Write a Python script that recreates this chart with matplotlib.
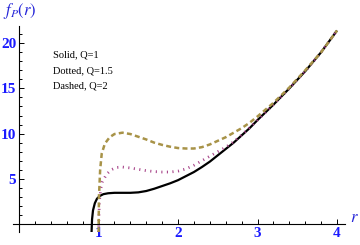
import numpy as np
import matplotlib
matplotlib.use("Agg")
from matplotlib import pyplot as plt
from matplotlib.ticker import FixedLocator

# Solid, Q=1
r_q1 = [0.912, 0.918, 0.93, 0.953, 0.98, 1.016, 1.06, 1.12, 1.2, 1.3, 1.4, 1.5,
        1.6, 1.7, 1.8, 1.9, 2.0, 2.1, 2.2, 2.3, 2.4, 2.5, 2.6, 2.7, 2.8, 2.9,
        3.0, 3.2, 3.4, 3.6, 3.8, 4.0]
f_q1 = [-0.9, 0.5, 1.5, 2.3, 2.8, 3.1, 3.3, 3.4, 3.45, 3.45, 3.45, 3.5,
        3.65, 3.9, 4.2, 4.5, 4.85, 5.3, 5.75, 6.3, 6.9, 7.6, 8.3, 9.0, 9.8, 10.6,
        11.5, 13.2, 15.0, 16.9, 19.0, 21.4]

# Dotted, Q=1.5
r_q15 = [1.0, 1.01, 1.03, 1.05, 1.1, 1.16, 1.22, 1.3, 1.4, 1.5, 1.6, 1.7,
         1.8, 1.9, 2.0, 2.1, 2.2, 2.3, 2.4, 2.5, 2.6, 2.7, 2.8, 2.9, 3.0,
         3.2, 3.4, 3.6, 3.8, 4.0]
f_q15 = [-0.9, 2.5, 4.0, 4.7, 5.5, 6.0, 6.25, 6.3, 6.2, 6.05, 5.9, 5.8,
         5.75, 5.75, 5.85, 6.1, 6.5, 7.0, 7.5, 8.0, 8.5, 9.1, 9.85, 10.65, 11.5,
         13.2, 15.0, 16.9, 19.0, 21.4]

# Dashed, Q=2
r_q2 = [1.0, 1.005, 1.02, 1.04, 1.08, 1.14, 1.2, 1.3, 1.4, 1.5, 1.6, 1.7,
        1.8, 1.9, 2.0, 2.1, 2.2, 2.3, 2.4, 2.5, 2.6, 2.7, 2.8, 2.9, 3.0,
        3.2, 3.4, 3.6, 3.8, 4.0]
f_q2 = [-0.9, 3.0, 6.0, 7.8, 8.9, 9.6, 9.95, 10.1, 9.95, 9.65, 9.35, 9.0,
        8.75, 8.55, 8.4, 8.35, 8.35, 8.5, 8.8, 9.2, 9.6, 10.1, 10.6, 11.2, 11.9,
        13.4, 15.1, 17.0, 19.0, 21.4]

legend_lines = ["Solid, Q=1", "Dotted, Q=1.5", "Dashed, Q=2"]


def main():
    plt.rcParams['mathtext.fontset'] = 'stix'
    fig = plt.figure(figsize=(3.6, 2.45), dpi=100)
    ax = fig.add_axes([0.0353, 0.0543, 0.923, 0.8396])

    ax.plot(r_q1, f_q1, color='black', lw=1.6, solid_capstyle='butt')
    ax.plot(r_q15, f_q15, color='#a8468a', lw=2.0,
            dashes=(0.4, 1.6), dash_capstyle='butt')
    ax.plot(r_q2, f_q2, color='#a89348', lw=1.8,
            dashes=(2.0, 1.3), dash_capstyle='butt')

    ax.set_xlim(-0.08, 4.1)
    ax.set_ylim(-0.85, 21.9)

    for s in ('top', 'right'):
        ax.spines[s].set_visible(False)
    ax.spines['left'].set_position(('data', 0))
    ax.spines['bottom'].set_position(('data', 0))
    for s in ('left', 'bottom'):
        ax.spines[s].set_linewidth(0.8)

    ax.xaxis.set_major_locator(FixedLocator([1, 2, 3, 4]))
    ax.xaxis.set_minor_locator(FixedLocator(np.arange(0.2, 4.05, 0.2)))
    ax.yaxis.set_major_locator(FixedLocator([5, 10, 15, 20]))
    ax.yaxis.set_minor_locator(FixedLocator(np.arange(1, 22, 1)))

    ax.tick_params(which='both', direction='in', width=0.7, color='black')
    ax.tick_params(which='major', length=3.8)
    ax.tick_params(which='minor', length=2.2)
    ax.tick_params(axis='x', pad=2)
    ax.tick_params(axis='y', pad=2)
    for lab in ax.get_xticklabels() + ax.get_yticklabels():
        lab.set_fontfamily('Liberation Serif')
        lab.set_fontweight('bold')
        lab.set_fontsize(11)
        lab.set_color('#1a1aff')

    fig.text(20 / 360, 1 - 11 / 245, r"$f_P(r)$", fontsize=12,
             color='#2424d8', ha='center', va='center')
    fig.text(354 / 360, 1 - 217 / 245, r"$r$", fontsize=12,
             color='#2424d8', ha='center', va='center')

    for i, t in enumerate(legend_lines):
        fig.text(53 / 360, 1 - (55 + 15.5 * i) / 245, t, fontsize=7.5,
                 family='Liberation Serif', color='black',
                 ha='left', va='center')

    fig.savefig("out.png", dpi=100)
    plt.close(fig)


if __name__ == "__main__":
    main()
